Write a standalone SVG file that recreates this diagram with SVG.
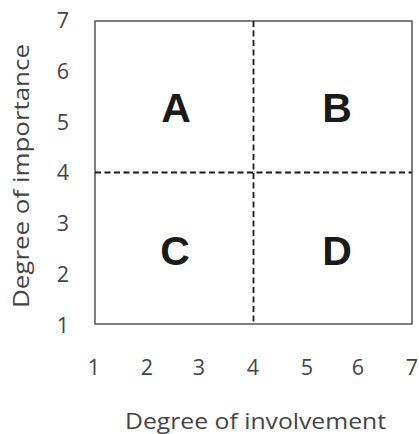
<svg xmlns="http://www.w3.org/2000/svg" width="419" height="434" viewBox="0 0 419 434">
<style>
.ax{font-family:"Open Sans","DejaVu Sans",sans-serif;font-size:21.5px;fill:#444;text-anchor:middle}
.q{font-family:"Liberation Sans",Arial,sans-serif;font-size:41px;font-weight:bold;fill:#1a1a1a;text-anchor:middle}
.frame{fill:#fff;stroke:#555;stroke-width:1.5}
.dash{stroke:#1a1a1a;stroke-width:1.8;stroke-dasharray:6 3.5;fill:none}
</style>
<rect width="419" height="434" fill="#fff"/>
<g id="plot">
<rect class="frame" x="95" y="21" width="317" height="303"/>
</g>
<g id="connectors">
<line class="dash" x1="253.5" y1="21" x2="253.5" y2="324"/>
<line class="dash" x1="95" y1="172.5" x2="412" y2="172.5"/>
</g>
<g id="A"><text class="q" x="176" y="122">A</text></g>
<g id="B"><text class="q" x="337" y="122">B</text></g>
<g id="C"><text class="q" x="175" y="265">C</text></g>
<g id="D"><text class="q" x="337" y="265">D</text></g>
<g id="y-ticks">
<text class="ax" x="63" y="28">7</text>
<text class="ax" x="63" y="79">6</text>
<text class="ax" x="63" y="130">5</text>
<text class="ax" x="63" y="180">4</text>
<text class="ax" x="63" y="231">3</text>
<text class="ax" x="63" y="282">2</text>
<text class="ax" x="63" y="333">1</text>
</g>
<g id="x-ticks">
<text class="ax" x="94" y="375">1</text>
<text class="ax" x="147" y="375">2</text>
<text class="ax" x="199" y="375">3</text>
<text class="ax" x="253" y="375">4</text>
<text class="ax" x="307" y="375">5</text>
<text class="ax" x="358" y="375">6</text>
<text class="ax" x="412" y="375">7</text>
</g>
<g id="x-title"><text class="ax" x="255.5" y="429" textLength="261" lengthAdjust="spacingAndGlyphs">Degree of involvement</text></g>
<g id="y-title"><text class="ax" transform="translate(29,176) rotate(-90)" x="0" y="0" textLength="264" lengthAdjust="spacingAndGlyphs">Degree of importance</text></g>
</svg>
